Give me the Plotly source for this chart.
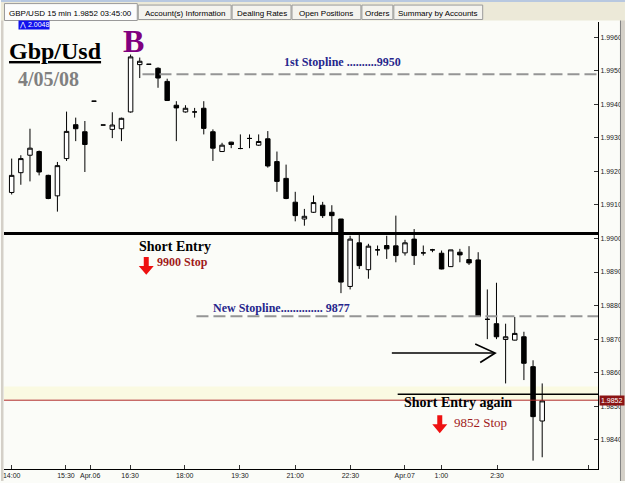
import plotly.graph_objects as go

# ---------------- data (GBP/USD 15 min) ----------------
opens = [1.99137, 1.99196, 1.99248, 1.99259, 1.99188, 1.99127, 1.99238, 1.99339, 1.99318, 1.99409,
         1.99338, 1.99325, 1.99327, 1.99377, 1.99518, 1.99519, 1.99507, 1.99468, 1.99397, 1.99377,
         1.99377, 1.99388, 1.99318, 1.99259, 1.99287, 1.99268, 1.99298, 1.99278, 1.99297, 1.99229,
         1.99179, 1.99108, 1.99058, 1.99078, 1.99099, 1.99078, 1.99058, 1.98857, 1.98987, 1.98907,
         1.98966, 1.98979, 1.98978, 1.98957, 1.98998, 1.98957, 1.98966, 1.98956, 1.98916, 1.98959,
         1.98937, 1.98936, 1.98759, 1.98746, 1.98699, 1.98697, 1.98707, 1.98618, 1.98456]
highs = [1.99238, 1.99248, 1.99327, 1.99262, 1.99190, 1.99228, 1.99378, 1.99360, 1.99350, 1.99409,
         1.99338, 1.99376, 1.99360, 1.99548, 1.99539, 1.99519, 1.99510, 1.99476, 1.99409, 1.99397,
         1.99389, 1.99409, 1.99325, 1.99285, 1.99288, 1.99310, 1.99310, 1.99310, 1.99320, 1.99259,
         1.99220, 1.99139, 1.99088, 1.99128, 1.99109, 1.99099, 1.99058, 1.99008, 1.99013, 1.98984,
         1.98979, 1.99008, 1.99068, 1.98996, 1.99028, 1.98979, 1.98969, 1.98964, 1.98966, 1.98969,
         1.98977, 1.98959, 1.98848, 1.98868, 1.98746, 1.98766, 1.98722, 1.98637, 1.98568]
lows = [1.99131, 1.99160, 1.99170, 1.99188, 1.99117, 1.99080, 1.99231, 1.99290, 1.99198, 1.99409,
        1.99338, 1.99299, 1.99290, 1.99375, 1.99478, 1.99519, 1.99449, 1.99410, 1.99290, 1.99375,
        1.99360, 1.99310, 1.99231, 1.99258, 1.99269, 1.99266, 1.99269, 1.99276, 1.99211, 1.99139,
        1.99117, 1.99051, 1.99038, 1.99076, 1.99061, 1.99015, 1.98837, 1.98848, 1.98909, 1.98880,
        1.98949, 1.98939, 1.98929, 1.98949, 1.98921, 1.98949, 1.98959, 1.98908, 1.98915, 1.98929,
        1.98921, 1.98767, 1.98700, 1.98700, 1.98568, 1.98696, 1.98578, 1.98338, 1.98348]
closes = [1.99188, 1.99238, 1.99269, 1.99198, 1.99119, 1.99217, 1.99319, 1.99327, 1.99280, 1.99409,
          1.99338, 1.99338, 1.99358, 1.99541, 1.99528, 1.99519, 1.99478, 1.99411, 1.99389, 1.99388,
          1.99377, 1.99328, 1.99269, 1.99278, 1.99280, 1.99268, 1.99298, 1.99289, 1.99216, 1.99170,
          1.99119, 1.99068, 1.99066, 1.99107, 1.99068, 1.99068, 1.98870, 1.98998, 1.98919, 1.98977,
          1.98966, 1.98969, 1.98949, 1.98987, 1.98949, 1.98957, 1.98966, 1.98909, 1.98966, 1.98951,
          1.98927, 1.98768, 1.98759, 1.98707, 1.98707, 1.98717, 1.98628, 1.98469, 1.98516]
bar_index = list(range(len(opens)))

tick_positions = [0, 5.93, 8.58, 12.95, 18.92, 24.96, 31.0, 37.04, 42.97, 46.98, 53.06, 63.06]
tick_labels = ["14:00", "15:30", "Apr.06", "16:30", "18:00", "19:30", "21:00", "22:30",
               "Apr.07", "1:00", "2:30", ""]

first_stop = 1.99489
short_entry = 1.99015
new_stop = 1.98768
second_entry = 1.98536
last_price = 1.98518
band_top = 1.98559
high_marker = "2.0048"

tab_titles = ["GBP/USD 15 min 1.9852 03:45:00", "Account(s) Information", "Dealing Rates",
              "Open Positions", "Orders", "Summary by Accounts"]

# ---------------- layout helpers (pixel -> paper) ----------------
W, H = 625, 483
L, R, T, B = 3, 598, 22, 471


def PX(x):
    return (x - L) / (R - L)


def PY(y):
    return (B - y) / (B - T)


def path(points):
    return "M " + " L ".join(f"{PX(x):.5f},{PY(y):.5f}" for x, y in points) + " Z"


BG = "#fbfcf8"

fig = go.Figure()
fig.add_trace(go.Candlestick(
    x=bar_index, open=opens, high=highs, low=lows, close=closes,
    increasing=dict(line=dict(color="black", width=1), fillcolor="white"),
    decreasing=dict(line=dict(color="black", width=1), fillcolor="black"),
    whiskerwidth=0, showlegend=False, hoverinfo="skip",
))

shapes = []
# light yellow band near the last price
shapes.append(dict(type="rect", xref="paper", yref="y", x0=0, x1=1, y0=last_price, y1=band_top,
                   fillcolor="#fafae2", line=dict(width=0), layer="below"))
# horizontal levels
shapes.append(dict(type="line", xref="x", yref="y", x0=14.3, x1=64.1, y0=first_stop, y1=first_stop,
                   line=dict(color="#959595", width=2, dash="12px,5px")))
shapes.append(dict(type="line", xref="x", yref="y", x0=20.2, x1=64.1, y0=new_stop, y1=new_stop,
                   line=dict(color="#959595", width=2, dash="12px,5px")))
shapes.append(dict(type="line", xref="paper", yref="y", x0=0, x1=1, y0=short_entry, y1=short_entry,
                   line=dict(color="black", width=3)))
shapes.append(dict(type="line", xref="x", yref="y", x0=42.2, x1=64.1, y0=second_entry, y1=second_entry,
                   line=dict(color="black", width=1.5)))
shapes.append(dict(type="line", xref="paper", yref="y", x0=0, x1=1, y0=last_price, y1=last_price,
                   line=dict(color="#b02a2a", width=1)))
# red down arrows
for ax, ay in [(145.5, 258), (439.5, 417)]:
    pts = [(ax - 2.5, ay), (ax + 2.5, ay), (ax + 2.5, ay + 9), (ax + 7.5, ay + 9), (ax, ay + 18),
           (ax - 7.5, ay + 9), (ax - 2.5, ay + 9)]
    shapes.append(dict(type="path", xref="paper", yref="paper", path=path(pts),
                       fillcolor="#ee1111", line=dict(width=0)))
# black right arrow
shapes.append(dict(type="line", xref="paper", yref="paper", x0=PX(391.5), x1=PX(494), y0=PY(354.5), y1=PY(354.5),
                   line=dict(color="black", width=1.6)))
shapes.append(dict(type="path", xref="paper", yref="paper",
                   path=f"M {PX(475):.5f},{PY(345.5):.5f} L {PX(495):.5f},{PY(354.5):.5f} L {PX(480):.5f},{PY(364):.5f}",
                   line=dict(color="black", width=1.6)))

# window chrome: borders and tab strip
shapes.append(dict(type="rect", xref="paper", yref="paper", x0=PX(0), x1=PX(2.5), y0=PY(483), y1=PY(20),
                   fillcolor="#d4d0c8", line=dict(width=0)))
shapes.append(dict(type="rect", xref="paper", yref="paper", x0=PX(620.5), x1=PX(625), y0=PY(483), y1=PY(20),
                   fillcolor="#d4d0c8", line=dict(width=0)))
shapes.append(dict(type="line", xref="paper", yref="paper", x0=PX(620.5), x1=PX(620.5), y0=PY(483), y1=PY(20),
                   line=dict(color="#808080", width=1)))
shapes.append(dict(type="rect", xref="paper", yref="paper", x0=PX(0), x1=PX(625), y0=PY(20.5), y1=PY(0),
                   fillcolor="#ece9d8", line=dict(width=0)))
shapes.append(dict(type="rect", xref="paper", yref="paper", x0=PX(0), x1=PX(625), y0=PY(2), y1=PY(0),
                   fillcolor="#b8c8e0", line=dict(width=0)))
tab_edges = [3, 137, 231, 291, 361, 393, 483]
for i in range(len(tab_titles)):
    x0, x1 = tab_edges[i], tab_edges[i + 1]
    shapes.append(dict(type="rect", xref="paper", yref="paper", x0=PX(x0 + 0.5), x1=PX(x1 - 0.5),
                       y0=PY(20.5 if i == 0 else 19.5), y1=PY(3.5 if i == 0 else 5),
                       fillcolor="#fcfcfc" if i == 0 else "#f4f3ee",
                       line=dict(color="#9a9a9a", width=1)))

annotations = []
for i, t in enumerate(tab_titles):
    annotations.append(dict(xref="paper", yref="paper", x=PX((tab_edges[i] + tab_edges[i + 1]) / 2), y=PY(13),
                            text=t, showarrow=False, xanchor="center", yanchor="middle",
                            font=dict(family="Liberation Sans", size=8, color="#000000")))


def note(text, x, y, size, color, family="Liberation Serif", bold=True, **kw):
    txt = f"<b>{text}</b>" if bold else text
    annotations.append(dict(xref="paper", yref="paper", x=PX(x), y=PY(y), text=txt, showarrow=False,
                            xanchor="left", yanchor="middle", font=dict(family=family, size=size, color=color),
                            **kw))


note("<u>Gbp/Usd</u>", 6, 51, 24, "black")
note("4/05/08", 15, 79, 20, "#808080")
note("B", 120, 41, 32, "#800080")
note("1st Stopline ..........9950", 281, 62, 12, "#26268c")
note("Short Entry", 136, 247.5, 14, "black")
note("9900 Stop", 154, 263.5, 12, "#a01a1a")
note("New Stopline.............. 9877", 210, 309, 12, "#26268c")
note("Short Entry again", 402, 404, 14, "black")
note("9852 Stop", 452, 424.5, 13, "#a01a1a", bold=False)
# high marker label
annotations.append(dict(xref="paper", yref="paper", x=PX(17), y=PY(25.5), text="⋀ " + high_marker,
                        showarrow=False, xanchor="left", yanchor="middle", bgcolor="#1010ee",
                        borderpad=0, font=dict(family="Liberation Sans", size=7, color="white")))
# last price label on the axis
annotations.append(dict(xref="paper", yref="y", x=PX(599), y=last_price, text=f"{last_price:.4f}",
                        showarrow=False, xanchor="left", yanchor="middle", bgcolor="#8b1414",
                        borderpad=1, font=dict(family="Liberation Sans", size=7, color="white")))

fig.update_layout(
    width=W, height=H,
    margin=dict(l=L, r=W - R, t=T, b=H - B, pad=0),
    paper_bgcolor=BG, plot_bgcolor=BG,
    showlegend=False,
    shapes=shapes, annotations=annotations,
    xaxis=dict(range=[-0.84, 64.1], tickvals=tick_positions, ticktext=tick_labels,
               ticks="inside", ticklen=4, tickcolor="#333", showline=True, linecolor="black", linewidth=1,
               showgrid=False, zeroline=False, rangeslider=dict(visible=False),
               tickfont=dict(family="Liberation Sans", size=7, color="#222")),
    yaxis=dict(range=[1.98313, 1.99645], side="right", dtick=0.001, tick0=1.984, tickformat=".4f",
               ticks="inside", ticklen=4, tickcolor="#333", showline=True, linecolor="black", linewidth=1,
               showgrid=False, zeroline=False,
               tickfont=dict(family="Liberation Sans", size=7, color="#222")),
)

fig.write_html("out.html", config={"displayModeBar": False})
